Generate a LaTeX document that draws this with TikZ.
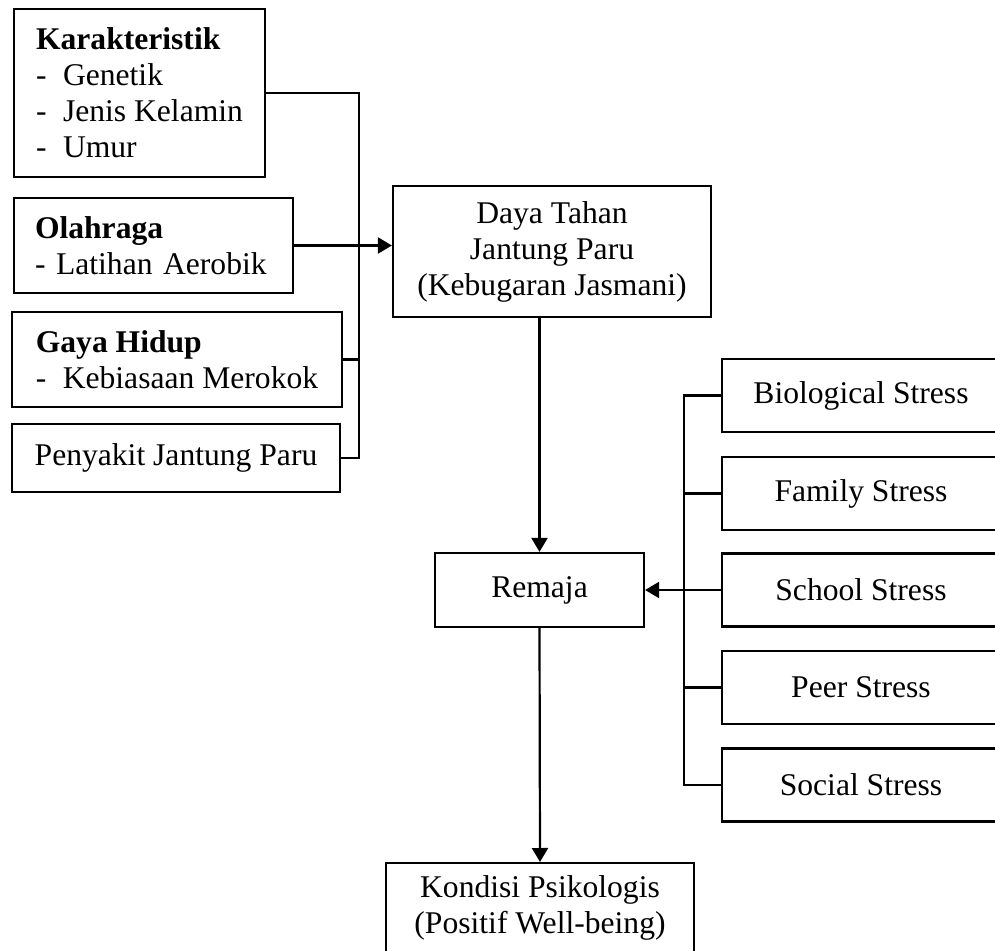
\documentclass[tikz,border=0pt]{standalone}
\usepackage{fontspec}
\setmainfont{Liberation Serif}
\usetikzlibrary{arrows.meta}

\newcommand{\dashitem}[1]{\makebox[13.5pt][l]{-}#1}

\begin{document}
\begin{tikzpicture}[x=0.5pt, y=-0.5pt,
    box/.style={draw, line width=1.1pt, font=\fontsize{15.8pt}{18pt}\selectfont, align=center},
    listbox/.style={box, align=left},
    stressbox/.style={box, minimum width=139pt, minimum height=36.5pt},
    line/.style={line width=1.1pt},
    arr/.style={line, -{Triangle[length=7pt,width=8pt]}}]
    \useasboundingbox (0,0) rectangle (995,951);
    \clip (0,0) rectangle (995,951);

    % Draw factor boxes
    \node [listbox, minimum width=125.5pt, minimum height=84pt] (kar) at (139.5,93)
        {\textbf{Karakteristik}\\ \dashitem{Genetik}\\ \dashitem{Jenis Kelamin}\\ \dashitem{Umur}};
    \node [listbox, text width=118.5pt, minimum width=139.5pt, minimum height=47.5pt] (ola) at (153.5,245.5)
        {\textbf{Olahraga}\\ - Latihan Aerobik};
    \node [listbox, minimum width=165pt, minimum height=47.5pt] (gaya) at (177,359.5)
        {\textbf{Gaya Hidup}\\ \dashitem{Kebiasaan Merokok}};
    \node [box, minimum width=164pt, minimum height=34pt] (peny) at (176,458) {Penyakit Jantung Paru};

    % Draw main chain
    \node [box, minimum width=159pt, minimum height=65.5pt] (daya) at (552,251.5)
        {Daya Tahan\\ Jantung Paru\\ (Kebugaran Jasmani)};
    \node [box, minimum width=104.5pt, minimum height=37pt] (rem) at (539.5,590) {Remaja};
    \node [box, anchor=north, minimum width=154pt, inner ysep=6pt] (kond) at (540,862)
        {Kondisi Psikologis\\ (Positif Well-being)};

    % Draw stress boxes
    \node [stressbox] (bio) at (861,395.5) {Biological Stress};
    \node [stressbox] (fam) at (861,493.5) {Family Stress};
    \node [stressbox] (sch) at (861,590) {School Stress};
    \node [stressbox] (peer) at (861,687.5) {Peer Stress};
    \node [stressbox] (soc) at (861,785) {Social Stress};

    % Left connectors
    \coordinate (lbus) at (359,247);
    \draw [line] (kar.east) -| (lbus) |- (peny.east);
    \draw [line] (gaya.east) -- (gaya.east -| lbus);
    \draw [arr] (ola.east) -- (ola.east -| daya.west);

    % Right connectors
    \coordinate (rbus) at (684,590);
    \draw [line] (bio.west) -| (rbus) |- (soc.west);
    \draw [line] (fam.west) -- (fam.west -| rbus);
    \draw [line] (peer.west) -- (peer.west -| rbus);
    \draw [arr] (sch.west) -- (rem.east);

    % Vertical arrows
    \draw [arr] (daya.south -| rem.north) -- (rem.north);
    \draw [arr] (rem.south) -- (kond.north);
\end{tikzpicture}
\end{document}
